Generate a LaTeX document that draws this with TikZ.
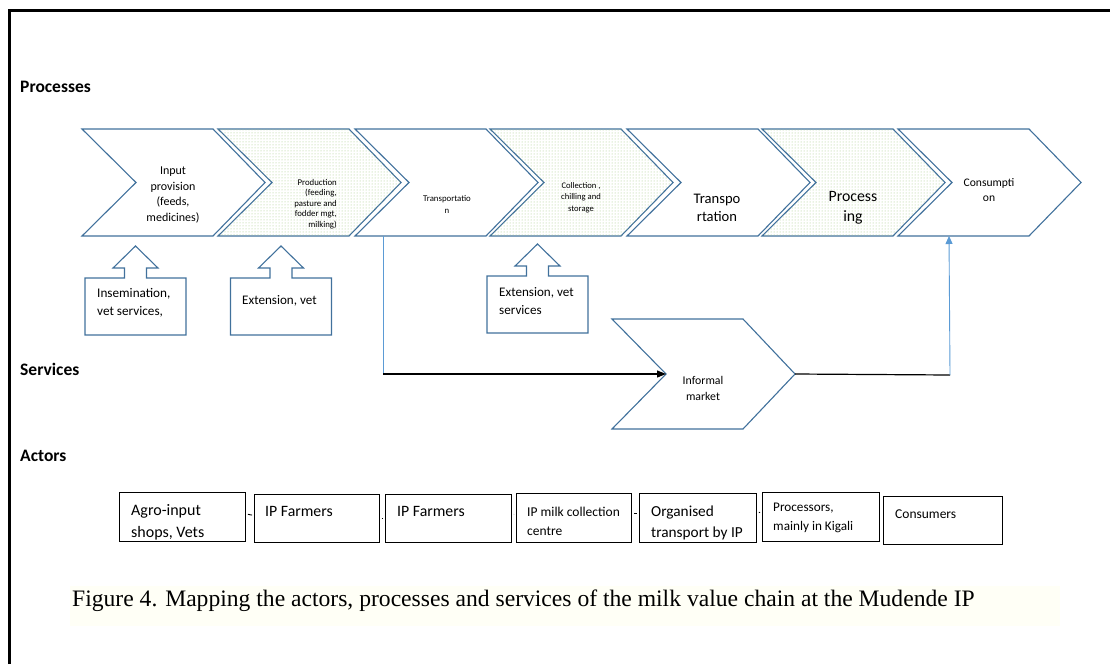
\documentclass[tikz,border=0pt]{standalone}
\usepackage{fontspec}
\setmainfont{Carlito}
\newfontfamily\capfont{Liberation Serif}
\usetikzlibrary{patterns,arrows.meta}
\definecolor{cb}{RGB}{65,113,156}
\definecolor{lb}{RGB}{91,155,213}
\definecolor{dotg}{RGB}{160,200,130}
\definecolor{capbg}{RGB}{255,255,246}
\newcommand\fsz[2]{\fontsize{#1}{#2}\selectfont}
\begin{document}
\begin{tikzpicture}[x=1pt,y=-1pt,
  chev/.style={draw=cb, line width=1.1pt, fill=white, line join=miter},
  dotchev/.style={chev, postaction={pattern=dots, pattern color=dotg}},
  svc/.style={draw=cb, line width=1.1pt, fill=white},
  txt/.style={inner sep=0pt, text=black},
  lbl/.style={inner sep=0pt, anchor=west, font=\bfseries\fsz{17.5}{20}},
  actor/.style={draw=black, line width=0.9pt, inner sep=0pt, anchor=north west, fill=white},
  atxt/.style={txt, anchor=west, align=left},
  tiny/.style={draw=black, line width=0.9pt, shorten <=2pt, shorten >=2pt},
  blueline/.style={draw=lb, line width=0.9pt},
  blackline/.style={draw=black, line width=1.2pt}
]
\useasboundingbox (0,0) rectangle (1110,664);
% frame
\draw[line width=2.5pt] (9.5,664) -- (9.5,10.5) -- (1110,10.5);

% section labels
\node[lbl] (lp) at (20,87) {Processes};
\node[lbl] (ls) at (20,369) {Services};
\node[lbl] (la) at (20,456) {Actors};

% process chevrons
\foreach \x/\s in {82/chev, 218/dotchev, 355/chev, 490/dotchev, 627/chev, 762/dotchev, 898/chev} {
  \draw[\s] (\x,129) -- ++(131,0) -- ++(52,53.5) -- ++(-52,53.5) -- ++(-131,0) -- ++(54,-53.5) -- cycle;
}
\node[txt, align=center, font=\fsz{12}{15.5}] (p1) at (173,195) {Input\\provision\\(feeds,\\medicines)};
\node[txt, align=right, anchor=east, font=\fsz{8.8}{10.5}] (p2) at (337,204) {Production\\(feeding,\\pasture and\\fodder mgt,\\milking)};
\node[txt, align=center, font=\fsz{8.8}{12}] (p3) at (447,204) {Transportatio\\n};
\node[txt, align=center, font=\fsz{8.6}{11.5}] (p4) at (581,197.5) {Collection ,\\chilling and\\storage};
\node[txt, align=center, font=\fsz{14.6}{18}] (p5) at (717,208) {Transpo\\rtation};
\node[txt, align=center, font=\fsz{15.8}{20}] (p6) at (853,208) {Process\\ing};
\node[txt, align=center, font=\fsz{11.6}{15}] (p7) at (989,190.5) {Consumpti\\on};
\coordinate (c3b) at (383,236);
\coordinate (c7b) at (949,236);

% service callouts
\foreach \cx/\ty in {135.5/278, 281/278, 537.5/276} {
  \draw[svc] (\cx-50.5,\ty) -- (\cx-11,\ty) -- (\cx-11,\ty-10) -- (\cx-22.5,\ty-10) -- (\cx,\ty-32)
    -- (\cx+22.5,\ty-10) -- (\cx+11,\ty-10) -- (\cx+11,\ty) -- (\cx+50.5,\ty) -- (\cx+50.5,\ty+57)
    -- (\cx-50.5,\ty+57) -- cycle;
}
\node[atxt, font=\fsz{13.2}{18}] (s1) at (97,303) {Insemination,\\vet services,};
\node[atxt, font=\fsz{13.1}{18}] (s2) at (242,301) {Extension, vet};
\node[atxt, font=\fsz{13.1}{18}] (s3) at (499,301) {Extension, vet\\services};

% informal market
\draw[chev] (612,319) -- ++(131,0) -- ++(52,55) -- ++(-52,55) -- ++(-131,0) -- ++(54,-55) -- cycle;
\coordinate (imin) at (666,374);
\coordinate (imout) at (795,374);
\node[txt, align=center, font=\fsz{11.8}{16}] (im) at (703,388) {Informal\\market};

% connectors
\coordinate (turn1) at (383,374);
\coordinate (turn2) at (950,375);
\draw[blueline] (c3b) -- (turn1);
\draw[blackline, -{Triangle[length=9pt,width=7pt]}] (turn1) -- (imin);
\draw[blackline] (imout) -- (turn2);
\draw[blueline, -{Triangle[length=8pt,width=7pt]}] (turn2) -- (c7b);

% actors
\node[actor, minimum width=126pt, minimum height=49pt] (a1) at (119,492) {};
\node[actor, minimum width=125pt, minimum height=48pt] (a2) at (254,494) {};
\node[actor, minimum width=126pt, minimum height=48pt] (a3) at (385,494) {};
\node[actor, minimum width=115pt, minimum height=49pt] (a4) at (516,493) {};
\node[actor, minimum width=117pt, minimum height=49pt] (a5) at (639,493) {};
\node[actor, minimum width=117pt, minimum height=49pt] (a6) at (762,492) {};
\node[actor, minimum width=119pt, minimum height=48pt] (a7) at (883,496) {};
\begin{scope}
  \clip (a1.south west) rectangle (a1.north east);
  \node[atxt, font=\fsz{16}{22}] (t1) at (131,522) {Agro-input\\shops, Vets};
\end{scope}
\node[atxt, font=\fsz{15.8}{20}] (t2) at (265,511) {IP Farmers};
\node[atxt, font=\fsz{15.8}{20}] (t3) at (397,511) {IP Farmers};
\node[atxt, font=\fsz{13.5}{19}] (t4) at (527,521) {IP milk collection\\centre};
\begin{scope}
  \clip (a5.south west) rectangle (a5.north east);
  \node[atxt, font=\fsz{15.3}{21}] (t5) at (651,523) {Organised\\transport by IP};
\end{scope}
\node[atxt, font=\fsz{13.2}{19}] (t6) at (773,518) {Processors,\\mainly in Kigali};
\node[atxt, font=\fsz{13.5}{19}] (t7) at (895,514) {Consumers};
\draw[tiny] ([yshift=3pt]a1.east) -- ([yshift=3pt]a2.west);
\draw[tiny] ([yshift=0pt]a2.east) -- ([yshift=0pt]a3.west);
\draw[tiny] ([yshift=4pt]a3.east) -- ([yshift=4pt]a4.west);
\draw[tiny] ([yshift=5pt]a4.east) -- ([yshift=5pt]a5.west);
\draw[tiny] ([yshift=5pt]a5.east) -- ([yshift=5pt]a6.west);

% caption
\fill[capbg] (70,586) rectangle (1060,626);
\node[txt, anchor=west, font=\capfont\fsz{23.6}{28}] (cap) at (72,601) {Figure 4. Mapping the actors, processes and services of the milk value chain at the Mudende IP};
\end{tikzpicture}
\end{document}
